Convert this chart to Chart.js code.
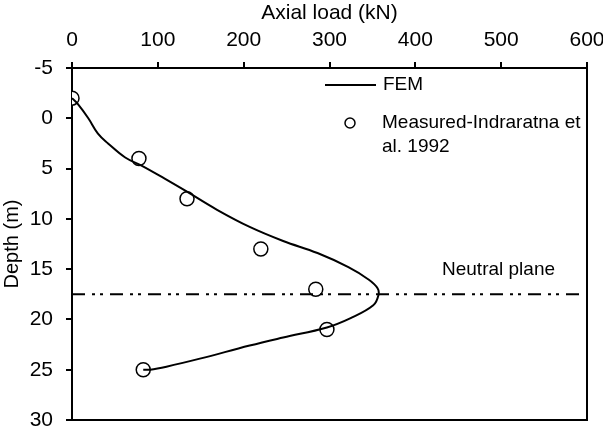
<!DOCTYPE html>
<html>
<head>
<meta charset="utf-8">
<script src="https://cdn.jsdelivr.net/npm/chart.js@4/dist/chart.umd.min.js"></script>
<style>
  html, body { margin: 0; padding: 0; background: #fff; }
  #wrap { width: 603px; height: 434px; }
</style>
</head>
<body>
<div id="wrap"><canvas id="chart" width="603" height="434"></canvas></div>
<script>
"use strict";

// FEM curve: axial load (kN) vs depth (m)
var femLoad  = [0, 6, 19, 30, 42, 62, 81, 108, 132, 169, 207, 246, 286, 322, 345, 356, 357, 351, 324, 297, 246, 207, 149, 110, 91, 83];
var femDepth = [-2, -1.5, 0, 1.5, 2.5, 3.9, 4.7, 6, 7.2, 9.1, 10.8, 12.2, 13.4, 14.8, 16.0, 16.9, 17.6, 18.6, 19.9, 20.8, 21.8, 22.6, 23.9, 24.7, 25, 25];

// measured (Indraratna et al. 1992)
var measLoad  = [0, 78, 134, 220, 284, 297, 83];
var measDepth = [-2, 4, 8, 13, 17, 21, 25];

// neutral plane depth
var neutralDepth = 17.5;

var xTicks = [0, 100, 200, 300, 400, 500, 600];
var yTicks = [-5, 0, 5, 10, 15, 20, 25, 30];

var FONT = "'Liberation Sans', Arial, sans-serif";

function toPts(xs, ys)
{
  var out = [];
  for (var i = 0; i < xs.length; i++) out.push({x: xs[i], y: ys[i]});
  return out;
}

var extras = {
  id: 'extras',
  afterDraw: function(chart) {
    var c = chart.ctx;
    var a = chart.chartArea;
    c.save();
    // frame right and bottom
    c.strokeStyle = '#000';
    c.lineWidth = 2;
    c.beginPath();
    c.moveTo(a.left, a.bottom);
    c.lineTo(a.right, a.bottom);
    c.lineTo(a.right, a.top);
    c.stroke();

    // legend
    c.fillStyle = '#000';
    c.font = '19px ' + FONT;
    c.textBaseline = 'middle';
    c.textAlign = 'left';
    c.lineWidth = 2;
    c.beginPath();
    c.moveTo(325, 85);
    c.lineTo(376, 85);
    c.stroke();
    c.fillText('FEM', 383, 85);
    c.lineWidth = 1.5;
    c.beginPath();
    c.arc(350, 123, 5, 0, Math.PI * 2);
    c.stroke();
    c.fillText('Measured-Indraratna et', 382, 123);
    c.fillText('al. 1992', 382, 147);

    // neutral plane label
    c.fillText('Neutral plane', 442, 270);
    c.restore();
  }
};

var ctx = document.getElementById('chart').getContext('2d');
new Chart(ctx, {
  type: 'scatter',
  data: {
    datasets: [
      {
        label: 'FEM',
        data: toPts(femLoad, femDepth),
        showLine: true,
        borderColor: '#000',
        borderWidth: 2,
        pointRadius: 0,
        tension: 0.4,
        fill: false
      },
      {
        label: 'Neutral plane',
        data: toPts([0, 600], [neutralDepth, neutralDepth]),
        showLine: true,
        borderColor: '#000',
        borderWidth: 2,
        borderDash: [13, 7, 3, 5, 3, 7],
        pointRadius: 0,
        fill: false
      },
      {
        label: 'Measured-Indraratna et al. 1992',
        data: toPts(measLoad, measDepth),
        showLine: false,
        pointRadius: 7,
        pointBackgroundColor: '#fff',
        pointBorderColor: '#000',
        pointBorderWidth: 1.5
      }
    ]
  },
  options: {
    responsive: false,
    animation: false,
    devicePixelRatio: 1,
    layout: { padding: { left: 0, right: 16, top: 0, bottom: 14 } },
    plugins: {
      legend: { display: false },
      tooltip: { enabled: false }
    },
    scales: {
      x: {
        type: 'linear',
        position: 'top',
        min: 0,
        max: 600,
        afterBuildTicks: function(s) { s.ticks = xTicks.map(function(v) { return {value: v}; }); },
        afterFit: function(s) { s.height = 68; s.paddingLeft = 0; s.paddingRight = 0; },
        grid: { drawOnChartArea: false, tickLength: 6, color: '#000', lineWidth: 2 },
        border: { display: true, color: '#000', width: 2 },
        ticks: { color: '#000', font: { family: FONT, size: 21 }, padding: 9, maxRotation: 0 },
        title: { display: true, text: 'Axial load (kN)', color: '#000', font: { family: FONT, size: 21 }, padding: { top: 1, bottom: 0 } }
      },
      y: {
        type: 'linear',
        reverse: true,
        min: -5,
        max: 30,
        afterBuildTicks: function(s) { s.ticks = yTicks.map(function(v) { return {value: v}; }); },
        afterFit: function(s) { s.width = 72; s.paddingTop = 0; s.paddingBottom = 0; },
        grid: { drawOnChartArea: false, tickLength: 6, color: '#000', lineWidth: 2 },
        border: { display: true, color: '#000', width: 2 },
        ticks: { color: '#000', font: { family: FONT, size: 21 }, padding: 13 },
        title: { display: true, text: 'Depth (m)', color: '#000', font: { family: FONT, size: 20 }, padding: { top: 0, bottom: 0 } }
      }
    }
  },
  plugins: [extras]
});
</script>
</body>
</html>
